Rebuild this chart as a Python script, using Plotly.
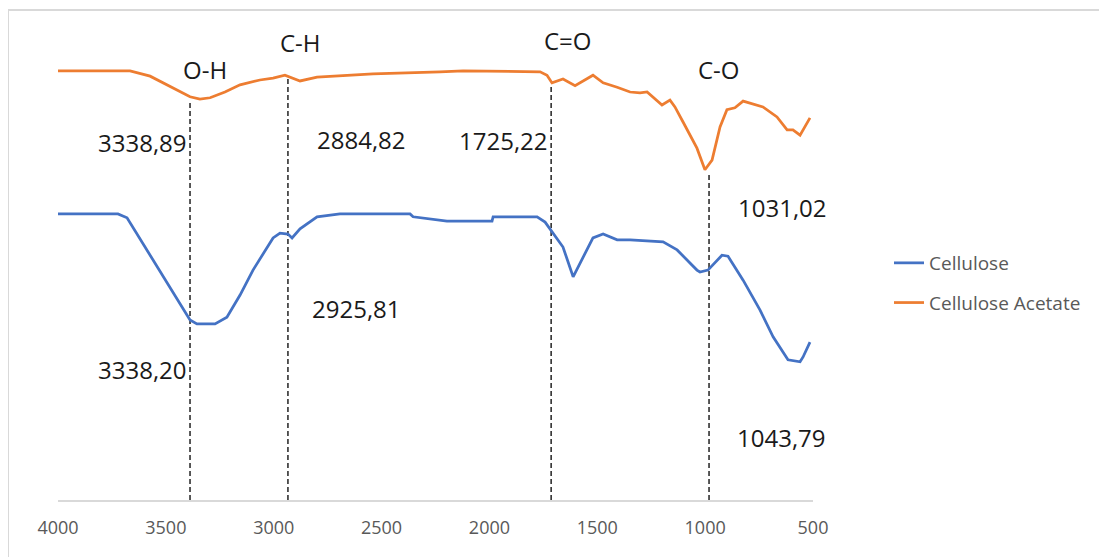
import plotly.graph_objects as go

# Cellulose (blue) spectrum, wavenumber (cm-1) vs relative transmittance (arb.)
cell_x = [4000, 3722, 3680, 3388, 3356, 3272, 3217, 3156, 3096, 3003, 2971, 2934, 2915, 2878, 2799,
          2693, 2368, 2354, 2197, 1988, 1983, 1779, 1742, 1705, 1659, 1612, 1566, 1520, 1473,
          1408, 1348, 1195, 1130, 1038, 1024, 987, 922, 894, 824, 746, 685, 616, 560, 546, 514]
cell_y = [59.6, 59.6, 58.8, 37.5, 36.7, 36.7, 38.1, 42.7, 47.9, 54.6, 55.6, 55.4, 54.6, 56.5, 59.0,
          59.6, 59.6, 59.0, 58.1, 58.1, 59.0, 59.0, 57.9, 55.6, 52.7, 46.5, 50.6, 54.6, 55.4,
          54.2, 54.2, 53.8, 52.1, 47.9, 47.5, 47.9, 51.0, 50.8, 45.8, 39.6, 34.0, 29.2, 28.8, 29.8, 32.9]

# Cellulose Acetate (orange) spectrum
ca_x = [4000, 3666, 3573, 3504, 3434, 3388, 3342, 3295, 3226, 3156, 3064, 3003, 2948, 2878, 2799,
        2540, 2229, 2122, 1765, 1733, 1710, 1659, 1603, 1520, 1473, 1408, 1348, 1302, 1269, 1200,
        1163, 1140, 1103, 1038, 1001, 968, 931, 899, 862, 824, 732, 667, 620, 593, 560, 514]
ca_y = [89.4, 89.4, 88.3, 86.7, 85.0, 84.0, 83.5, 83.8, 85.0, 86.5, 87.5, 87.9, 88.5, 87.3, 88.1,
        88.8, 89.2, 89.4, 89.2, 88.5, 86.9, 87.7, 86.3, 88.5, 86.9, 86.0, 85.0, 84.8, 85.0, 82.3,
        83.3, 81.9, 78.8, 73.3, 68.8, 70.8, 77.7, 81.3, 81.7, 83.1, 81.9, 79.8, 77.1, 77.1, 76.0, 79.6]

# Marked peaks: dashed guide lines
peak_x = [3388, 2934, 1714, 982]
peak_top = [83.3, 87.9, 86.5, 68.3]

# Group labels
group_labels = ["O-H", "C-H", "C=O", "C-O"]
group_x = [3318, 2878, 1636, 936]
group_y = [89.6, 95.4, 95.8, 89.6]

# Wavenumber value labels
value_labels = ["3338,89", "2884,82", "1725,22", "1031,02", "3338,20", "2925,81", "1043,79"]
value_x = [3606, 2595, 1937, 643, 3606, 2614, 648]
value_y = [74.4, 75.2, 74.8, 61.0, 27.1, 40.0, 13.1]

tick_vals = [4000, 3500, 3000, 2500, 2000, 1500, 1000, 500]

fig = go.Figure()
fig.add_trace(go.Scatter(x=cell_x, y=cell_y, mode="lines", name="Cellulose",
                         line=dict(color="#4472C4", width=2.75), legendgroup="a"))
fig.add_trace(go.Scatter(x=ca_x, y=ca_y, mode="lines", name="Cellulose Acetate",
                         line=dict(color="#ED7D31", width=2.75), legendgroup="b"))

for px, pt in zip(peak_x, peak_top):
    fig.add_shape(type="line", xref="x", yref="y", x0=px, x1=px, y0=0, y1=pt,
                  line=dict(color="black", width=1.3, dash="5px,3px"), layer="below")

for t, x, y in zip(group_labels, group_x, group_y):
    fig.add_annotation(x=x, y=y, text=t, showarrow=False, xref="x", yref="y",
                       font=dict(family="Open Sans", size=24, color="#1a1a1a"))
for t, x, y in zip(value_labels, value_x, value_y):
    fig.add_annotation(x=x, y=y, text=t, showarrow=False, xref="x", yref="y",
                       font=dict(family="Open Sans", size=24, color="#1a1a1a"))

# outer chart frame
fig.add_shape(type="rect", xref="paper", yref="paper",
              x0=(0 - 50) / 755, x1=(1120 - 50) / 755,
              y0=(492 - 570) / 480, y1=(492 - 2) / 480,
              line=dict(color="#d9d9d9", width=2), fillcolor="rgba(0,0,0,0)")

fig.update_layout(
    width=1099, height=549,
    margin=dict(l=50, r=294, t=12, b=57),
    paper_bgcolor="white", plot_bgcolor="white",
    font=dict(family="Open Sans", color="#595959"),
    showlegend=True,
    legend=dict(x=(889 - 58) / 755, xanchor="left", y=(500 - 283) / 480, yanchor="middle",
                font=dict(family="Open Sans", size=19, color="#595959"),
                tracegroupgap=12, traceorder="grouped", bgcolor="rgba(0,0,0,0)"),
    xaxis=dict(range=[4000, 500], tickvals=tick_vals, ticktext=[str(v) for v in tick_vals],
               showgrid=False, zeroline=False, showline=True, linecolor="#d9d9d9", linewidth=2,
               ticks="", ticklabelstandoff=10,
               tickfont=dict(family="Open Sans", size=18, color="#595959")),
    yaxis=dict(range=[0, 100], visible=False, showgrid=False, zeroline=False),
)

fig.write_html("out.html")
